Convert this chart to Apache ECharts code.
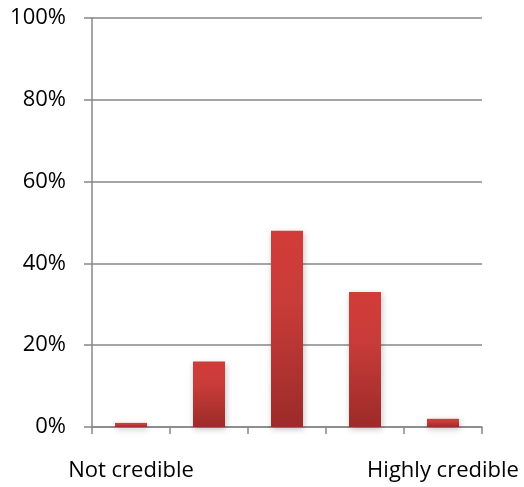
<!DOCTYPE html>
<html>
<head>
<meta charset="utf-8">
<script src="https://cdn.jsdelivr.net/npm/echarts@6/dist/echarts.min.js"></script>
<style>
  html, body { margin: 0; padding: 0; background: #ffffff; }
  #chart { width: 524px; height: 487px; }
</style>
</head>
<body>
<div id="chart"></div>
<script>
// Credibility rating buckets, from lowest to highest
const categories = ['1', '2', '3', '4', '5'];
const categoryLabels = ['Not credible', '', '', '', 'Highly credible'];
// Share of responses per bucket (percent)
const shares = [1, 16, 48, 33, 2];
// Value axis ticks (percent)
const yTicks = [0, 20, 40, 60, 80, 100];

const gridColor = '#878787';
const fontFamily = '"Open Sans", "Liberation Sans", sans-serif';

const chart = echarts.init(document.getElementById('chart'), null, { renderer: 'canvas' });

chart.setOption({
  animation: false,
  grid: { left: 92, right: 42, top: 18, bottom: 60, containLabel: false },
  xAxis: {
    type: 'category',
    data: categories,
    boundaryGap: true,
    axisLine: { show: true, lineStyle: { color: gridColor, width: 1.5 } },
    axisTick: { show: true, interval: 0, length: 7, lineStyle: { color: gridColor, width: 1.5 } },
    axisLabel: {
      interval: 0,
      hideOverlap: false,
      margin: 33,
      color: '#000000',
      fontSize: 22,
      fontFamily: fontFamily,
      formatter: (v, i) => categoryLabels[i]
    },
    splitLine: { show: false }
  },
  yAxis: {
    type: 'value',
    min: yTicks[0],
    max: yTicks[yTicks.length - 1],
    interval: 20,
    axisLine: { show: true, lineStyle: { color: gridColor, width: 1.5 } },
    axisTick: { show: true, length: 8, lineStyle: { color: gridColor, width: 1.5 } },
    axisLabel: {
      margin: 26,
      color: '#000000',
      fontSize: 22,
      fontFamily: fontFamily,
      formatter: v => v + '%'
    },
    splitLine: { show: true, lineStyle: { color: gridColor, width: 1.5 } }
  },
  series: [{
    type: 'bar',
    data: shares,
    barWidth: 32,
    itemStyle: {
      color: new echarts.graphic.LinearGradient(0, 0, 0, 1, [
        { offset: 0, color: '#d23c38' },
        { offset: 0.35, color: '#c93c39' },
        { offset: 1, color: '#9c2b29' }
      ]),
      shadowColor: 'rgba(0,0,0,0.25)',
      shadowBlur: 6,
      shadowOffsetX: 1,
      shadowOffsetY: 2
    }
  }]
});
</script>
</body>
</html>
